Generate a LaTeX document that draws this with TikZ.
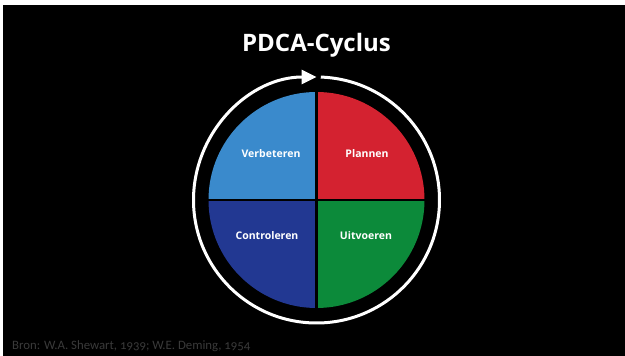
\documentclass[tikz,border=0pt]{standalone}
\usepackage{fontspec}
\setmainfont{Open Sans}
\newfontfamily\bronfont[Numbers=OldStyle]{Carlito}
\usetikzlibrary{arrows.meta}
\definecolor{cblue}{RGB}{58,138,204}
\definecolor{cred}{RGB}{212,34,48}
\definecolor{cdblue}{RGB}{34,56,146}
\definecolor{cgreen}{RGB}{12,138,58}
\definecolor{cgray}{RGB}{58,58,58}
\begin{document}
\begin{tikzpicture}[x=1pt,y=1pt,
  lbl/.style={text=white,font=\bfseries\fontsize{10.5}{12}\selectfont,inner sep=0pt}]
\useasboundingbox (0,0) rectangle (625,356);
\fill[white] (0,0) rectangle (625,356);
\fill[black] (3,0) rectangle (625,350.5);
\coordinate (c) at (316.5,156);
% sectors
\fill[cred]   (c) -- ++(0,108) arc (90:0:108) -- cycle;
\fill[cgreen] (c) -- ++(108,0) arc (0:-90:108) -- cycle;
\fill[cdblue] (c) -- ++(0,-108) arc (-90:-180:108) -- cycle;
\fill[cblue]  (c) -- ++(-108,0) arc (180:90:108) -- cycle;
\draw[black,line width=2.5pt] ([yshift=110]c) -- ([yshift=-110]c);
\draw[black,line width=2.5pt] ([xshift=-110]c) -- ([xshift=110]c);
% ring with arrow
\draw[white,line width=3pt,-{Triangle[length=15pt,width=14pt]}]
  ([shift={(88:123)}]c) arc (88:-270:123);
% labels
\node[lbl] (verb) at (271,202) {Verbeteren};
\node[lbl] (plan) at (367,202) {Plannen};
\node[lbl] (cont) at (267,120) {Controleren};
\node[lbl] (uitv) at (366,120) {Uitvoeren};
\node[text=white,font=\bfseries\fontsize{24}{28}\selectfont,inner sep=0pt] (title) at (316.5,311) {PDCA-Cyclus};
\node[text=cgray,font=\bronfont\fontsize{12.8}{14}\selectfont,anchor=west,inner sep=0pt] (bron) at (12,10) {Bron: W.A. Shewart, 1939; W.E. Deming, 1954};
\end{tikzpicture}
\end{document}
